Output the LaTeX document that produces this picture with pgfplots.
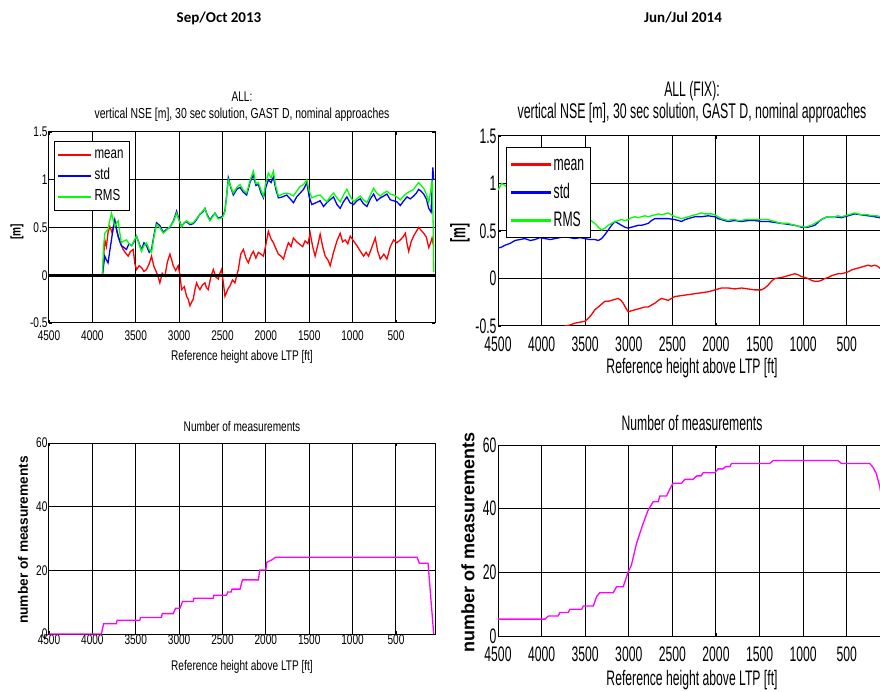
\documentclass[border=0pt]{standalone}
\usepackage{pgfplots}
\pgfplotsset{compat=1.18}
\usepackage{fontspec}
\setmainfont{Liberation Sans}
\newfontfamily\nL[FakeStretch=0.72]{Liberation Sans}
\newfontfamily\nR[FakeStretch=0.58]{Liberation Sans}
\newfontfamily\hdr{Carlito}

\definecolor{cmean}{rgb}{1,0,0}
\definecolor{cstd}{rgb}{0,0,1}
\definecolor{crms}{rgb}{0,1,0}
\definecolor{cnum}{rgb}{1,0,1}

\newcommand{\fL}{\nL\fontsize{14}{16}\selectfont}
\newcommand{\fR}{\nR\fontsize{21}{23}\selectfont}

\pgfplotsset{
  heightaxis/.style={
    scale only axis, anchor=north west,
    x dir=reverse, xmin=50, xmax=4500,
    xtick={500,1000,...,4500},
    xticklabels={500,1000,1500,2000,2500,3000,3500,4000,4500},
    grid=major, grid style={black, line width=1pt},
    axis line style={black, line width=1pt},
    tick align=inside, major tick length=3pt,
    tick style={black, line width=0.8pt},
    legend cell align=left,
  },
  nseaxis/.style={
    heightaxis, ymin=-0.5, ymax=1.5,
    ytick={-0.5,0,0.5,1,1.5}, yticklabels={-0.5,0,0.5,1,1.5},
  },
  numaxis/.style={
    heightaxis, ymin=0, ymax=60,
    ytick={0,20,40,60}, yticklabels={0,20,40,60},
  },
  curve/.style={line width=1.3pt},
  % short coloured bar used as legend key
  keyL/.style={legend image code/.code={\fill[#1] (0pt,-0.6pt) rectangle (32pt,0.6pt);}},
  keyR/.style={legend image code/.code={\fill[#1] (0pt,-0.6pt) rectangle (39pt,0.6pt);}},
}

\begin{document}
\begin{tikzpicture}
\useasboundingbox (0pt,0pt) rectangle (880pt,691pt);
\clip (0pt,0pt) rectangle (880pt,691pt);

% campaign headers
\node[font=\hdr\bfseries\fontsize{15}{17}\selectfont] at (219pt,673pt) {Sep/Oct 2013};
\node[font=\hdr\bfseries\fontsize{15}{17}\selectfont] at (683pt,673pt) {Jun/Jul 2014};

% ---------------- Sep/Oct 2013: vertical NSE ----------------
\begin{axis}[nseaxis, at={(49pt,559pt)}, width=386pt, height=191pt,
  ticklabel style={font=\fL},
  xticklabel style={yshift=-4pt},
  yticklabel style={xshift=2pt},
  legend style={at={(0.013,0.953)}, anchor=north west, draw=black, fill=white,
    font=\nL\fontsize{16}{18}\selectfont,
    nodes={text height=12pt, text depth=5pt},
    column sep=2pt, inner xsep=4pt, inner ysep=3pt},
]
\addlegendimage{keyL={cmean}}
\addlegendentry{mean}
\addlegendimage{keyL={cstd}}
\addlegendentry{std}
\addlegendimage{keyL={crms}}
\addlegendentry{RMS}
\addplot[curve, cmean, forget plot] coordinates {
(3884,0) (3857,0.37) (3838,0.30) (3819,0.45) (3799,0.51) (3770,0.44) (3742,0.57)
(3720,0.48) (3703,0.41) (3675,0.33) (3645,0.27) (3615,0.23) (3588,0.20) (3560,0.25)
(3530,0.27) (3510,0.12) (3491,0.06) (3460,0.10) (3434,0.08) (3405,0.04) (3376,0.06)
(3345,0.12) (3318,0.20) (3290,0.09) (3260,0.03) (3240,-0.02) (3222,-0.08) (3195,0.02)
(3164,-0.01) (3135,0.14) (3106,0.22) (3085,0.16) (3068,0.10) (3040,0.05) (3010,0.10)
(2990,0.00) (2972,-0.15) (2940,-0.12) (2914,-0.22) (2895,-0.25) (2875,-0.32)
(2855,-0.28) (2837,-0.25) (2815,-0.14) (2798,-0.08) (2780,-0.12) (2760,-0.15)
(2730,-0.10) (2702,-0.08) (2685,-0.13) (2664,-0.15) (2635,-0.02) (2606,0.06)
(2575,-0.02) (2548,-0.04) (2530,0.02) (2510,0.06) (2490,-0.08) (2471,-0.22)
(2440,-0.15) (2413,-0.11) (2385,-0.05) (2356,-0.08) (2335,0.00) (2317,0.06)
(2290,0.22) (2259,0.27) (2230,0.18) (2202,0.13) (2170,0.21) (2144,0.25) (2115,0.18)
(2086,0.24) (2055,0.22) (2028,0.20) (2000,0.32) (1971,0.46) (1940,0.38) (1913,0.34)
(1885,0.28) (1855,0.22) (1825,0.20) (1797,0.17) (1770,0.26) (1740,0.34) (1710,0.30)
(1682,0.39) (1645,0.35) (1605,0.32) (1575,0.30) (1547,0.36) (1515,0.33) (1489,0.44)
(1460,0.30) (1432,0.20) (1400,0.32) (1374,0.43) (1345,0.30) (1316,0.20) (1285,0.16)
(1258,0.10) (1220,0.24) (1180,0.36) (1143,0.44) (1115,0.35) (1085,0.37) (1055,0.33)
(1027,0.41) (990,0.36) (950,0.31) (910,0.25) (873,0.20) (845,0.24) (816,0.20)
(775,0.30) (739,0.39) (710,0.25) (681,0.17) (640,0.22) (604,0.17) (565,0.30)
(527,0.37) (490,0.34) (450,0.37) (420,0.40) (392,0.44) (370,0.32) (353,0.25)
(325,0.35) (296,0.41) (265,0.46) (238,0.50) (210,0.47) (180,0.44) (150,0.40)
(122,0.29) (100,0.34) (84,0.39) (65,0.30)
};
\addplot[curve, cstd, forget plot] coordinates {
(3884,0) (3857,0.20) (3838,0.16) (3819,0.13) (3800,0.25) (3780,0.37) (3760,0.50)
(3742,0.58) (3720,0.47) (3703,0.41) (3685,0.36) (3665,0.31) (3635,0.29) (3607,0.27)
(3578,0.33) (3549,0.31) (3520,0.35) (3491,0.41) (3460,0.33) (3434,0.27) (3405,0.34)
(3376,0.31) (3345,0.24) (3318,0.27) (3290,0.42) (3260,0.55) (3222,0.52) (3183,0.45)
(3145,0.48) (3106,0.50) (3065,0.57) (3029,0.67) (3000,0.58) (2972,0.51) (2940,0.55)
(2914,0.56) (2875,0.53) (2837,0.54) (2800,0.58) (2760,0.64) (2730,0.66) (2702,0.70)
(2675,0.63) (2644,0.58) (2615,0.62) (2587,0.65) (2550,0.60) (2510,0.61) (2490,0.63)
(2471,0.68) (2450,0.85) (2433,1.02) (2405,0.92) (2375,0.84) (2335,0.90) (2298,0.92)
(2260,0.87) (2221,0.84) (2180,0.98) (2144,1.05) (2115,0.94) (2086,0.95) (2055,0.86)
(2028,0.81) (2000,0.92) (1971,1.00) (1940,0.97) (1913,1.03) (1885,0.90) (1855,0.81)
(1810,0.82) (1759,0.84) (1720,0.80) (1682,0.76) (1645,0.82) (1605,0.86) (1565,0.90)
(1528,0.97) (1500,0.82) (1470,0.74) (1420,0.76) (1374,0.78) (1335,0.72) (1297,0.76)
(1260,0.79) (1220,0.82) (1180,0.74) (1143,0.70) (1105,0.77) (1066,0.82) (1030,0.76)
(989,0.74) (950,0.78) (912,0.80) (875,0.75) (835,0.72) (795,0.80) (758,0.85)
(720,0.78) (681,0.81) (640,0.83) (604,0.85) (565,0.79) (527,0.78) (490,0.77)
(450,0.73) (410,0.78) (373,0.82) (335,0.80) (296,0.83) (265,0.86) (238,0.90)
(210,0.88) (180,0.85) (150,0.80) (122,0.70) (95,0.66) (75,1.13) (65,1.00)
};
\addplot[curve, crms, forget plot] coordinates {
(3884,0) (3870,0.30) (3857,0.44) (3838,0.46) (3819,0.48) (3800,0.57) (3780,0.65)
(3760,0.58) (3742,0.51) (3720,0.55) (3703,0.57) (3685,0.45) (3665,0.34) (3635,0.36)
(3607,0.37) (3578,0.33) (3549,0.31) (3520,0.36) (3491,0.41) (3460,0.32) (3434,0.25)
(3405,0.31) (3376,0.34) (3345,0.27) (3318,0.24) (3290,0.40) (3260,0.53) (3222,0.50)
(3183,0.44) (3145,0.47) (3106,0.51) (3065,0.56) (3029,0.65) (3000,0.57) (2972,0.51)
(2940,0.55) (2914,0.57) (2875,0.54) (2837,0.55) (2800,0.59) (2760,0.64) (2730,0.67)
(2702,0.70) (2675,0.62) (2644,0.57) (2615,0.61) (2587,0.65) (2550,0.59) (2510,0.60)
(2490,0.62) (2471,0.67) (2450,0.85) (2433,1.00) (2405,0.93) (2375,0.86) (2335,0.92)
(2298,0.95) (2260,0.89) (2221,0.86) (2180,1.00) (2144,1.09) (2115,0.96) (2086,0.97)
(2055,0.89) (2028,0.83) (2000,0.97) (1971,1.07) (1940,1.02) (1913,1.09) (1885,0.93)
(1855,0.83) (1810,0.85) (1759,0.86) (1720,0.85) (1682,0.83) (1645,0.88) (1605,0.93)
(1565,0.95) (1528,1.00) (1500,0.88) (1470,0.81) (1420,0.83) (1374,0.84) (1335,0.80)
(1297,0.77) (1260,0.82) (1220,0.86) (1180,0.81) (1143,0.77) (1105,0.84) (1066,0.90)
(1030,0.83) (989,0.77) (950,0.80) (912,0.83) (875,0.79) (835,0.76) (795,0.84)
(758,0.91) (720,0.86) (681,0.83) (640,0.86) (604,0.88) (565,0.85) (527,0.84)
(490,0.82) (450,0.79) (410,0.83) (373,0.86) (335,0.88) (296,0.90) (265,0.94)
(238,0.97) (210,0.94) (180,0.91) (150,0.85) (122,0.76) (100,0.88) (84,1.00)
(70,0.50) (65,0.03)
};
\addplot[black, line width=3pt, forget plot] coordinates {(4500,0) (50,0)};
\end{axis}
\node[font=\fL, align=center] at (242pt,594pt) {ALL:};
\node[font=\nL\fontsize{14.5}{16}\selectfont] at (242pt,576pt)
  {vertical NSE [m], 30 sec solution, GAST D, nominal approaches};
\node[font=\fL] at (242pt,334pt) {Reference height above LTP [ft]};
\node[font=\nL\bfseries\fontsize{14}{16}\selectfont, rotate=90] at (17pt,459pt) {[m]};

% ---------------- Jun/Jul 2014: vertical NSE (FIX) ----------------
\begin{axis}[nseaxis, at={(498pt,555pt)}, width=388pt, height=190pt,
  ticklabel style={font=\fR},
  xticklabel style={yshift=-7pt},
  yticklabel style={xshift=2pt},
  legend style={at={(0.021,0.942)}, anchor=north west, draw=black, fill=white,
    font=\nR\fontsize{21}{23}\selectfont,
    nodes={text height=18pt, text depth=6pt, inner xsep=1pt},
    column sep=2pt, inner xsep=5pt, inner ysep=3pt},
]
\addlegendimage{keyR={cmean}}
\addlegendentry{mean}
\addlegendimage{keyR={cstd}}
\addlegendentry{std}
\addlegendimage{keyR={crms}}
\addlegendentry{RMS}
\addplot[curve, cmean, forget plot] coordinates {
(4500,-0.90) (4200,-0.80) (3900,-0.65) (3732,-0.50) (3675,-0.49) (3618,-0.47)
(3560,-0.46) (3503,-0.45) (3465,-0.42) (3427,-0.38) (3390,-0.33) (3350,-0.30)
(3312,-0.27) (3274,-0.24) (3235,-0.24) (3197,-0.23) (3160,-0.22) (3121,-0.21)
(3090,-0.23) (3064,-0.26) (3035,-0.31) (3006,-0.35) (2970,-0.34) (2930,-0.33)
(2890,-0.32) (2854,-0.31) (2815,-0.30) (2777,-0.30) (2740,-0.28) (2701,-0.26)
(2660,-0.23) (2624,-0.21) (2585,-0.22) (2548,-0.23) (2510,-0.21) (2472,-0.19)
(2395,-0.18) (2319,-0.17) (2242,-0.16) (2166,-0.15) (2090,-0.14) (2050,-0.13)
(2013,-0.12) (1975,-0.11) (1937,-0.10) (1860,-0.10) (1784,-0.11) (1708,-0.10)
(1631,-0.11) (1555,-0.12) (1478,-0.12) (1440,-0.10) (1402,-0.07) (1365,-0.03)
(1326,0.00) (1249,0.01) (1173,0.03) (1096,0.05) (1060,0.04) (1020,0.02) (980,0.01)
(944,0.00) (905,-0.02) (867,-0.03) (830,-0.03) (791,-0.02) (750,0.00) (714,0.01)
(675,0.03) (638,0.04) (600,0.05) (562,0.05) (520,0.06) (485,0.07) (445,0.09)
(409,0.10) (370,0.11) (332,0.12) (295,0.13) (256,0.14) (218,0.13) (180,0.14)
(150,0.13) (122,0.11) (50,0.08)
};
\addplot[curve, cstd, forget plot] coordinates {
(4500,0.32) (4460,0.33) (4420,0.35) (4360,0.37) (4305,0.40) (4250,0.41) (4191,0.42)
(4130,0.40) (4076,0.41) (4020,0.43) (3961,0.42) (3900,0.41) (3847,0.42) (3790,0.43)
(3732,0.44) (3675,0.43) (3618,0.42) (3560,0.43) (3503,0.42) (3445,0.41) (3388,0.41)
(3350,0.40) (3312,0.42) (3275,0.46) (3236,0.51) (3197,0.56) (3159,0.60) (3120,0.58)
(3083,0.56) (3045,0.54) (3006,0.53) (2970,0.54) (2930,0.55) (2890,0.56) (2854,0.56)
(2815,0.57) (2777,0.58) (2740,0.61) (2701,0.63) (2624,0.63) (2548,0.63) (2472,0.62)
(2430,0.61) (2395,0.60) (2355,0.62) (2319,0.63) (2280,0.64) (2242,0.65) (2166,0.65)
(2090,0.66) (2013,0.65) (1975,0.63) (1937,0.62) (1900,0.61) (1860,0.60) (1784,0.61)
(1708,0.60) (1631,0.61) (1555,0.61) (1478,0.60) (1402,0.60) (1326,0.59) (1249,0.58)
(1173,0.57) (1096,0.56) (1020,0.54) (944,0.54) (905,0.55) (867,0.56) (830,0.59)
(791,0.62) (750,0.64) (714,0.65) (638,0.65) (562,0.64) (485,0.66) (409,0.68)
(332,0.67) (256,0.66) (180,0.65) (122,0.64) (50,0.63)
};
\addplot[curve, crms, forget plot] coordinates {
(4500,0.93) (4458,1.00) (4420,0.98) (4300,0.90) (4000,0.80) (3700,0.70) (3500,0.64)
(3446,0.62) (3420,0.60) (3388,0.58) (3350,0.54) (3312,0.51) (3275,0.53) (3236,0.56)
(3197,0.58) (3159,0.60) (3120,0.61) (3083,0.62) (3045,0.61) (3006,0.62) (2970,0.64)
(2930,0.65) (2890,0.64) (2854,0.65) (2815,0.66) (2777,0.65) (2740,0.66) (2701,0.67)
(2660,0.68) (2624,0.67) (2585,0.68) (2548,0.69) (2510,0.67) (2472,0.65) (2430,0.64)
(2395,0.63) (2355,0.64) (2319,0.65) (2280,0.66) (2242,0.67) (2205,0.68) (2166,0.69)
(2128,0.68) (2090,0.68) (2050,0.68) (2013,0.67) (1975,0.65) (1937,0.63) (1900,0.62)
(1860,0.61) (1820,0.62) (1784,0.62) (1745,0.61) (1708,0.61) (1670,0.62) (1631,0.62)
(1555,0.62) (1478,0.62) (1402,0.62) (1365,0.61) (1326,0.60) (1290,0.59) (1249,0.58)
(1173,0.58) (1135,0.57) (1096,0.56) (1060,0.55) (1020,0.55) (980,0.54) (944,0.55)
(905,0.56) (867,0.58) (830,0.60) (791,0.62) (750,0.64) (714,0.65) (675,0.65)
(638,0.65) (600,0.66) (562,0.65) (520,0.66) (485,0.67) (445,0.68) (409,0.69)
(370,0.68) (332,0.67) (295,0.67) (256,0.67) (218,0.66) (180,0.66) (150,0.66)
(122,0.65) (50,0.64)
};
\end{axis}
\node[font=\fR] at (692pt,600pt) {ALL (FIX):};
\node[font=\nR\fontsize{21.3}{23}\selectfont] at (692pt,578pt)
  {vertical NSE [m], 30 sec solution, GAST D, nominal approaches};
\node[font=\fR] at (692pt,323pt) {Reference height above LTP [ft]};
\node[font=\nR\bfseries\fontsize{21}{23}\selectfont, rotate=90] at (460pt,458pt) {[m]};

% ---------------- Sep/Oct 2013: number of measurements ----------------
\begin{axis}[numaxis, at={(49pt,248pt)}, width=386pt, height=191pt,
  ticklabel style={font=\fL},
  xticklabel style={yshift=3pt},
  yticklabel style={xshift=2pt},
]
\addplot[curve, cnum] coordinates {
(4500,0) (3896,0) (3870,3.2) (3722,3.2) (3715,4.3) (3453,4.3) (3445,5.2) (3203,5.2)
(3195,6.4) (3068,6.4) (3040,8.1) (2990,8.1) (2960,10.2) (2837,10.2) (2830,11.2)
(2606,11.2) (2600,12.2) (2452,12.2) (2440,13.2) (2400,13.2) (2390,14.1) (2298,14.1)
(2270,17.0) (2086,17.0) (2070,20.1) (2000,20.1) (1990,22.5) (1930,23.3) (1890,24.1)
(257,24.1) (230,22.2) (130,22.2) (65,0)
};
\end{axis}
\node[font=\fL] at (242pt,265pt) {Number of measurements};
\node[font=\fL] at (242pt,24pt) {Reference height above LTP [ft]};
\node[font=\bfseries\fontsize{13.7}{15}\selectfont, rotate=90] at (23pt,151pt) {number of measurements};

% ---------------- Jun/Jul 2014: number of measurements ----------------
\begin{axis}[numaxis, at={(498pt,246pt)}, width=388pt, height=191pt,
  ticklabel style={font=\fR},
  xticklabel style={yshift=-7pt},
  yticklabel style={xshift=2pt},
]
\addplot[curve, cnum] coordinates {
(4500,5.3) (3961,5.3) (3923,6.3) (3809,6.3) (3790,7.4) (3694,7.4) (3675,8.4)
(3541,8.4) (3522,9.4) (3407,9.4) (3369,12.4) (3331,13.6) (3178,13.6) (3140,15.5)
(3064,15.5) (3006,20.2) (2970,22.3) (2911,29.1) (2835,35.4) (2777,39.6) (2720,42.2)
(2663,42.2) (2643,44.0) (2567,44.0) (2529,46.2) (2491,48.0) (2395,48.0) (2357,49.2)
(2262,49.2) (2220,50.3) (2170,50.3) (2147,51.3) (2013,51.3) (1975,52.5) (1918,52.5)
(1890,53.2) (1840,53.2) (1822,54.2) (1383,54.2) (1345,55.1) (600,55.1) (562,54.2)
(237,54.2) (199,53.0) (161,51.0) (122,47.0) (80,40.0) (50,35.0)
};
\end{axis}
\node[font=\fR] at (692pt,268pt) {Number of measurements};
\node[font=\fR] at (692pt,11pt) {Reference height above LTP [ft]};
\node[font=\bfseries\fontsize{18}{20}\selectfont, rotate=90] at (468pt,149pt) {number of measurements};
\end{tikzpicture}
\end{document}
